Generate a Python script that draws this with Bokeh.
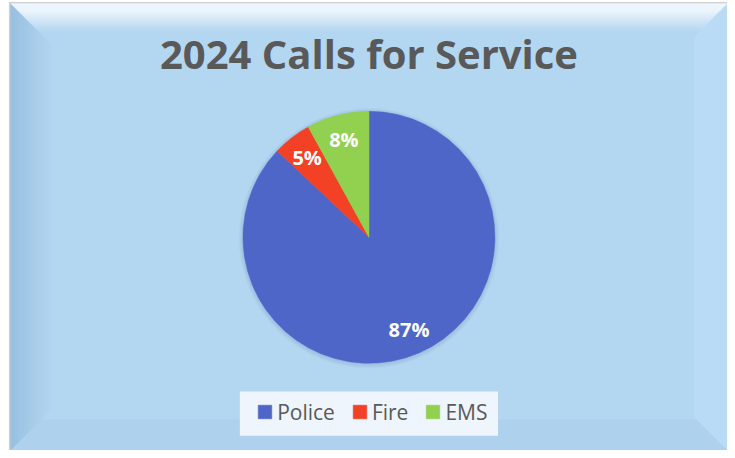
import math
from bokeh.plotting import figure
from bokeh.models import Range1d, ColumnDataSource, Legend, LegendItem
from bokeh.core.properties import value
from bokeh.embed import file_html
from bokeh.resources import INLINE

# ---- data ----
title = "2024 Calls for Service"
categories = ["Police", "Fire", "EMS"]
shares = [87, 5, 8]
colors = ["#4F66C9", "#F24125", "#92D050"]

W, H = 727, 450
SX, SY = W / 735, H / 458
def X(v):
    return v * SX
def Y(v):
    return H - v * SY

p = figure(width=W, height=H, output_backend="svg", toolbar_location=None,
           x_range=Range1d(0, W), y_range=Range1d(0, H), min_border=0,
           background_fill_color="#FFFFFF", border_fill_color="#FFFFFF",
           outline_line_color=None)
p.axis.visible = False
p.grid.visible = False

# ---- frame and bevel (decoration) ----
L, T, R, B = X(10), 3 * SY, W, H
p.quad(left=[L - 1.5], right=[R], top=[Y(3) + 1.5], bottom=[0], fill_color="#D0D0D0",
       line_color=None)
p.quad(left=[L], right=[R], top=[Y(3)], bottom=[0], fill_color="#B3D6F1", line_color=None)

xs, ys, fc, fa = [], [], [], []
def band(side, depth, color, alpha_fn):
    for d in range(depth):
        a = alpha_fn(d)
        if side == "top":
            px = [L + d, R - d, R - d - 1, L + d + 1]
            py = [T + d, T + d, T + d + 1, T + d + 1]
        elif side == "bottom":
            px = [L + d, R - d, R - d - 1, L + d + 1]
            py = [B - d, B - d, B - d - 1, B - d - 1]
        elif side == "left":
            px = [L + d, L + d, L + d + 1, L + d + 1]
            py = [T + d, B - d, B - d - 1, T + d + 1]
        else:
            px = [R - d, R - d, R - d - 1, R - d - 1]
            py = [T + d, B - d, B - d - 1, T + d + 1]
        xs.append(px)
        ys.append([H - v for v in py])
        fc.append(color)
        fa.append(a)

band("top", 30, "#FFFFFF", lambda d: 1.0 if d < 6 else max(0.0, 1 - (d - 6) / 24) ** 1.4)
band("left", 42, "#6F9DC6", lambda d: 0.42 * (1 - d / 42) ** 1.2)
band("right", 33, "#C4E4FC", lambda d: 0.5)
band("bottom", 31, "#8FB8DA", lambda d: 0.10)
p.patches(xs, ys, fill_color=fc, fill_alpha=fa, line_color=None)

# ---- pie ----
cx, cy, r = X(372.5), Y(241), 126
total = sum(shares)
starts, ends, mids = [], [], []
acc = 0.0
for s in shares:
    a0 = math.pi / 2 - 2 * math.pi * acc / total
    acc += s
    a1 = math.pi / 2 - 2 * math.pi * acc / total
    starts.append(a0)
    ends.append(a1)
    mids.append((a0 + a1) / 2)

for k in range(1, 5):
    p.circle(x=[cx], y=[cy - 1], radius=r + k, fill_color="#2E5C8A", fill_alpha=0.035,
             line_color=None)

src = ColumnDataSource(dict(x=[cx] * 3, y=[cy] * 3, start=starts, end=ends,
                            color=colors, cat=categories))
wr = p.wedge(x="x", y="y", radius=r, start_angle="start", end_angle="end",
             direction="clock", fill_color="color", line_color="color", line_width=0.5,
             source=src)

lx = [cx + 0.8 * r * math.cos(m) for m in mids]
ly = [cy + 0.8 * r * math.sin(m) for m in mids]
labels = [f"{s}%" for s in shares]
p.text(x=lx, y=ly, text=labels, text_align="center", text_baseline="middle",
       text_color="white", text_font=value("Open Sans"), text_font_style="bold",
       text_font_size="20px")

# ---- title ----
p.text(x=[X(372.5)], y=[Y(54)], text=[title], text_align="center", text_baseline="middle",
       text_color="#595959", text_font=value("Open Sans"), text_font_style="bold",
       text_font_size="40px")

# ---- legend ----
p.quad(left=[X(242)], right=[X(503)], top=[Y(398)], bottom=[Y(443)],
       fill_color="#EEF5FC", line_color=None)
items = [LegendItem(label=c, renderers=[wr], index=i) for i, c in enumerate(categories)]
leg = Legend(items=items, orientation="horizontal",
             location=(X(261) - 2, Y(420) - 13),
             glyph_width=17, glyph_height=17, label_standoff=4, spacing=16,
             padding=0, margin=0, label_height=20,
             label_text_font="Open Sans", label_text_font_size="21px",
             label_text_color="#595959",
             background_fill_alpha=0.0, border_line_color=None)
p.add_layout(leg, "center")

open("out.html", "w").write(file_html(p, INLINE))
